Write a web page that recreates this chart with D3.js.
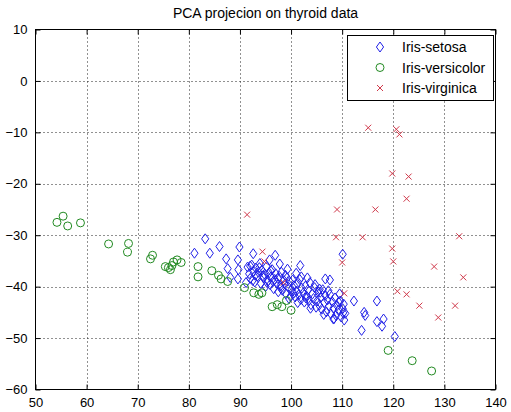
<!DOCTYPE html>
<html>
<head>
<meta charset="utf-8">
<script src="https://cdn.jsdelivr.net/npm/d3@7"></script>
<style>
  body { margin: 0; background: #fff; }
  svg text { font-family: "Liberation Sans", Arial, sans-serif; }
</style>
</head>
<body>
<div id="chart"></div>
<script>
// class names for the legend
var classNames = ["Iris-setosa", "Iris-versicolor", "Iris-virginica"];

// tick values
var xTicks = [50, 60, 70, 80, 90, 100, 110, 120, 130, 140];
var yTicks = [-60, -50, -40, -30, -20, -10, 0, 10];

// Iris-setosa (blue diamonds) : [x, y]
var setosa = [
  [83.2, -30.7], [81.1, -33.5], [84.1, -33.5], [86.0, -32.2], [89.9, -32.3],
  [87.3, -34.6], [89.6, -34.8], [87.6, -36.5], [89.7, -36.7], [88.1, -38.2],
  [89.6, -38.5], [92.6, -33.6], [96.9, -33.9], [101.8, -35.9], [110.1, -33.7],
  [107.6, -38.7], [106.7, -38.5], [112.3, -42.8], [116.8, -42.8], [114.3, -45.0],
  [114.5, -45.6], [118.1, -46.3], [116.8, -46.8], [117.8, -47.7], [113.8, -48.5],
  [120.3, -49.7], [110.2, -45.1], [109.3, -43.0], [108.3, -46.3], [105.7, -41.1],
  [91.5, -36.2], [91.8, -37.5], [92.0, -38.4], [92.3, -35.8], [92.6, -37.0],
  [92.9, -39.1], [93.1, -36.4], [93.4, -38.0], [93.6, -37.2], [93.9, -35.5],
  [94.1, -39.4], [94.3, -36.8], [94.6, -38.3], [94.8, -37.6], [95.0, -40.0],
  [95.2, -36.1], [95.5, -38.9], [95.7, -37.3], [95.9, -39.6], [96.1, -38.1],
  [96.3, -36.7], [96.6, -40.4], [96.8, -38.6], [97.0, -37.5], [97.2, -39.3],
  [97.5, -41.0], [97.7, -38.0], [97.9, -39.9], [98.1, -37.2], [98.3, -40.7],
  [98.6, -38.8], [98.8, -39.5], [99.0, -41.4], [99.2, -38.3], [99.5, -40.1],
  [99.7, -39.0], [99.9, -41.9], [100.1, -40.6], [100.3, -38.7], [100.6, -39.8],
  [100.8, -42.0], [101.0, -40.9], [101.2, -39.4], [101.5, -41.6], [101.7, -38.6],
  [101.9, -42.5], [102.1, -40.3], [102.4, -41.2], [102.6, -43.0], [102.8, -39.9],
  [103.0, -41.8], [103.3, -40.6], [103.5, -42.7], [103.7, -39.2], [103.9, -43.5],
  [104.2, -41.4], [104.4, -42.3], [104.6, -40.2], [104.9, -44.0], [105.1, -42.8],
  [105.3, -41.0], [105.5, -43.6], [105.8, -42.1], [106.0, -44.4], [106.2, -40.6],
  [106.5, -43.1], [106.7, -41.7], [106.9, -44.9], [107.1, -42.6], [107.4, -43.8],
  [107.6, -41.5], [107.8, -45.3], [108.1, -43.0], [108.3, -44.2], [108.6, -42.2],
  [108.8, -45.6], [109.0, -43.7], [109.3, -44.6], [109.6, -42.8], [109.8, -45.9],
  [110.1, -44.3], [110.3, -43.4], [110.6, -45.2],
  [92.0, -36.0], [92.5, -38.8], [93.0, -37.8], [93.8, -36.3], [94.5, -37.9],
  [95.3, -39.2], [96.0, -36.9], [96.5, -39.0], [97.4, -38.4], [98.0, -40.3],
  [98.9, -37.8], [99.6, -42.3], [100.5, -41.3], [101.3, -43.1], [102.0, -38.1],
  [102.9, -42.2], [103.8, -44.2], [104.7, -39.6], [105.6, -40.5], [106.4, -45.4],
  [107.3, -40.8], [108.4, -46.2], [109.5, -41.4], [110.4, -46.5], [95.8, -34.8],
  [97.8, -35.6], [99.3, -36.6], [101.0, -37.4], [103.2, -38.3], [91.2, -39.2]
];

// Iris-versicolor (green circles)
var versicolor = [
  [54.2, -27.5], [55.4, -26.3], [56.3, -28.2], [58.8, -27.6], [64.3, -31.7],
  [68.2, -31.6], [68.0, -33.3], [72.9, -33.9], [72.5, -34.6], [75.4, -36.1],
  [76.4, -36.7], [77.0, -35.2], [77.7, -34.8], [78.5, -35.3], [76.7, -35.9],
  [76.0, -36.3], [81.8, -36.1], [81.8, -38.1], [84.5, -36.9], [85.8, -37.8],
  [86.3, -38.5], [87.6, -39.0], [92.7, -41.2], [93.7, -41.5], [94.3, -41.2],
  [96.3, -43.9], [97.3, -43.5], [98.2, -43.9], [100.0, -44.6], [119.0, -52.4],
  [123.7, -54.4], [127.5, -56.4], [90.9, -40.2], [99.1, -42.7]
];

// Iris-virginica (red crosses)
var virginica = [
  [91.4, -26.0], [94.4, -33.2], [94.8, -35.1], [98.5, -39.2], [108.8, -30.4],
  [110.0, -35.3], [110.4, -41.3], [109.0, -25.0], [115.1, -9.1], [116.5, -25.0],
  [114.0, -30.4], [120.6, -9.4], [121.2, -10.4], [119.8, -18.0], [123.0, -18.6],
  [122.6, -22.9], [119.8, -32.6], [120.0, -35.1], [120.8, -40.9], [122.6, -41.5],
  [125.1, -43.7], [128.8, -46.0], [128.0, -36.1], [132.9, -30.2], [133.7, -38.2],
  [132.1, -43.7]
];

var width = 511, height = 412;

var svg = d3.select("#chart").append("svg")
  .attr("width", width)
  .attr("height", height);

var x = d3.scaleLinear().domain([50, 140]).range([35.5, 495.5]);
var y = d3.scaleLinear().domain([-60, 10]).range([389.5, 29.5]);

var blue = "#2020e8", green = "#228a22", red = "#d0384a";

// grid
var grid = svg.append("g");
grid.selectAll(".gx").data(xTicks.slice(1, -1)).enter().append("line")
  .attr("x1", function(d) { return Math.round(x(d)) + 0.5; })
  .attr("x2", function(d) { return Math.round(x(d)) + 0.5; })
  .attr("y1", y(10)).attr("y2", y(-60))
  .attr("stroke", "#222").attr("stroke-dasharray", "1,3");
grid.selectAll(".gy").data(yTicks.slice(1, -1)).enter().append("line")
  .attr("y1", function(d) { return Math.round(y(d)) + 0.5; })
  .attr("y2", function(d) { return Math.round(y(d)) + 0.5; })
  .attr("x1", x(50)).attr("x2", x(140))
  .attr("stroke", "#222").attr("stroke-dasharray", "1,3");

// axes (ticks pointing in, like matlab)
svg.append("g").attr("transform", "translate(0," + y(-60) + ")")
  .call(d3.axisBottom(x).tickValues(xTicks).tickSizeInner(-5).tickSizeOuter(0).tickPadding(8));
svg.append("g").attr("transform", "translate(0," + y(10) + ")")
  .call(d3.axisTop(x).tickValues(xTicks).tickSizeInner(-5).tickSizeOuter(0).tickFormat(""));
svg.append("g").attr("transform", "translate(" + x(50) + ",0)")
  .call(d3.axisLeft(y).tickValues(yTicks).tickSizeInner(-5).tickSizeOuter(0).tickPadding(8));
svg.append("g").attr("transform", "translate(" + x(140) + ",0)")
  .call(d3.axisRight(y).tickValues(yTicks).tickSizeInner(-5).tickSizeOuter(0).tickFormat(""));

svg.selectAll(".domain").remove();
svg.selectAll(".tick text").attr("font-size", 13).attr("fill", "#000")
  .attr("font-family", "Liberation Sans, Arial, sans-serif");

svg.append("rect")
  .attr("x", x(50)).attr("y", y(10))
  .attr("width", x(140) - x(50)).attr("height", y(-60) - y(10))
  .attr("fill", "none").attr("stroke", "#000");

// markers
function diamond(g, cx, cy) {
  g.append("path")
    .attr("d", "M" + cx + "," + (cy - 5) + "L" + (cx + 3.6) + "," + cy +
      "L" + cx + "," + (cy + 5) + "L" + (cx - 3.6) + "," + cy + "Z")
    .attr("fill", "none").attr("stroke", blue).attr("stroke-width", 1);
}
function circle(g, cx, cy) {
  g.append("circle").attr("cx", cx).attr("cy", cy).attr("r", 4)
    .attr("fill", "none").attr("stroke", green).attr("stroke-width", 1);
}
function cross(g, cx, cy) {
  g.append("path")
    .attr("d", "M" + (cx - 3) + "," + (cy - 3) + "L" + (cx + 3) + "," + (cy + 3) +
      "M" + (cx - 3) + "," + (cy + 3) + "L" + (cx + 3) + "," + (cy - 3))
    .attr("stroke", red).attr("stroke-width", 1);
}

var pts = svg.append("g");
setosa.forEach(function(d) { diamond(pts, x(d[0]), y(d[1])); });
versicolor.forEach(function(d) { circle(pts, x(d[0]), y(d[1])); });
virginica.forEach(function(d) { cross(pts, x(d[0]), y(d[1])); });

// title
svg.append("text")
  .attr("x", (x(50) + x(140)) / 2).attr("y", 18)
  .attr("text-anchor", "middle").attr("font-size", 14)
  .text("PCA projecion on thyroid data");

// legend
var lg = svg.append("g");
lg.append("rect").attr("x", 347.5).attr("y", 35.5).attr("width", 146).attr("height", 65)
  .attr("fill", "#fff").attr("stroke", "#000");
var markers = [diamond, circle, cross];
classNames.forEach(function(name, i) {
  var cy = 47 + i * 20.5;
  markers[i](lg, 380, cy);
  lg.append("text").attr("x", 402).attr("y", cy + 5).attr("font-size", 14).text(name);
});
</script>
</body>
</html>
